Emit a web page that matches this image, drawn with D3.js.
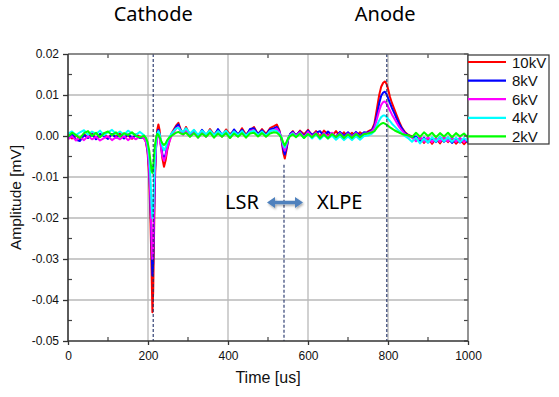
<!DOCTYPE html>
<html>
<head>
<meta charset="utf-8">
<script src="https://cdn.jsdelivr.net/npm/d3@7"></script>
<style>
  body { margin: 0; background: #fff; }
  svg text { font-family: "Liberation Sans", Arial, sans-serif; fill: #111; }
  svg text.note { font-family: "Noto Sans", "Open Sans", sans-serif; fill: #000; }
</style>
</head>
<body>
<div id="chart"></div>
<script>

///////////////////////////////////////////////////////////////////////////
////////////////////////////////// Data ///////////////////////////////////
///////////////////////////////////////////////////////////////////////////

// time in us
var time = [
  0,10,20,30,40,50,60,70,80,90,100,110,120,130,140,150,160,170,180,190,
  195,199,203,206,209,211,213,215,217,220,223,226,229,232,236,240,244,248,253,258,264,270,276,282,288,
  295,305,315,325,335,345,355,365,375,385,395,405,415,425,435,445,455,465,475,485,495,505,515,
  522,528,534,538,542,546,551,556,562,
  570,580,590,600,610,620,630,640,650,660,670,680,690,700,710,720,730,740,750,760,
  766,772,778,783,788,792,796,800,805,810,816,822,828,835,842,850,
  860,870,880,890,900,910,920,930,940,950,960,970,980,990,1000
]

// amplitudes in units of 0.001 mV
var amp10kV = [
  0.4,-0.6,0.2,-0.9,0.5,-0.4,0.7,-0.7,0.2,0.6,-0.5,0.4,-0.2,0.8,-0.4,0.2,-0.7,0.4,-0.2,-0.5,
  -1.5,-4,-10,-20,-33,-43,-38,-25,-12,-3,1.5,2.8,1.5,-2,-5.5,-7.5,-6,-3.5,-1.5,0.5,1.5,2.5,3.2,1.5,0.5,
  2.2,0.2,1.4,-0.1,1.3,0.0,1.7,0.3,1.4,-0.1,1.6,0.4,1.3,0.1,1.9,0.3,1.4,2.2,0.4,1.7,0.5,1.9,2.4,
  2.8,1.5,-1.0,-4.0,-5.5,-3.5,-0.5,0.5,1.2,
  0.0,1.3,0.4,1.5,0.1,1.2,-0.2,1.3,0.4,0.0,1.2,-0.1,0.9,-0.2,0.8,-0.1,0.9,0.1,1.1,1.6,
  3,6.5,10,12,13,13.3,12.8,11.5,9.5,8,6.5,5,3.5,2,1,0.3,
  -0.1,-1.2,-0.3,-1.7,-0.4,-1.9,-0.6,-1.8,-0.3,-1.5,-0.5,-1.9,-0.8,-2.0,-1.0
]
var amp8kV = [
  -0.4,0.5,-0.9,-1.2,0.2,-0.5,0.4,-0.8,0.5,0.0,-0.7,0.5,-0.4,0.2,-0.6,0.4,-0.4,0.1,-0.5,-0.3,
  -1.2,-3.5,-8,-16,-27,-34,-31,-20,-10,-2.5,0.8,1.5,0.5,-2,-4.5,-5.5,-4.5,-2.5,-1,0.3,1.2,2.2,2.8,1.3,0.8,
  1.8,0.3,1.2,-0.2,1.5,0.2,1.3,0.0,1.7,0.3,1.2,-0.1,1.6,0.4,1.5,0.0,1.7,1.9,0.5,1.4,0.2,1.6,1.9,
  2.2,1.3,-0.8,-3.2,-4.5,-3.0,-0.6,0.6,1.0,
  0.2,1.1,-0.1,1.3,0.3,0.8,1.2,0.0,1.1,0.2,-0.1,1.0,0.0,0.9,-0.1,1.0,0.0,0.9,0.8,1.4,
  2.5,5,8,9.8,10.6,10.8,10.3,9.3,8,6.8,5.5,4.2,3,1.8,0.8,0.2,
  -0.3,-0.1,-1.4,-0.4,-1.6,-0.5,-1.5,-0.3,-1.4,-0.4,-1.7,-0.6,-1.6,-0.7,-1.6
]
var amp6kV = [
  -0.8,-0.1,-1.1,-0.3,-1.0,0.0,-0.8,-0.2,-1.1,-0.5,-0.1,-1.0,-0.3,-0.8,0.0,-1.0,-0.3,-0.8,-0.1,-0.6,
  -1.5,-3.5,-8,-15,-25,-30,-27,-18,-9,-3,-0.5,0.5,-0.5,-2.5,-5,-6,-5,-3,-1.5,-0.2,0.8,1.8,2.2,1.0,0.3,
  1.4,-0.1,0.9,-0.4,0.8,-0.2,1.1,-0.3,0.9,-0.1,0.8,-0.4,1.1,-0.1,0.9,-0.3,1.2,1.4,0.0,1.0,-0.1,1.2,1.5,
  1.8,1.0,-0.6,-2.6,-3.6,-2.4,-0.5,0.3,0.8,
  0.0,0.9,-0.3,1.0,-0.1,0.8,-0.4,0.7,-0.2,0.8,-0.3,0.7,-0.4,0.6,-0.3,0.7,-0.4,0.6,0.7,1.2,
  2,4,6.2,7.6,8.3,8.4,8.0,7.2,6.2,5.2,4.2,3.2,2.2,1.3,0.5,0.0,
  -0.4,-1.3,-0.2,-1.4,-0.3,-1.5,-0.4,-1.4,-0.2,-1.3,-0.3,-1.4,-0.4,-1.5,-0.5
]
var amp4kV = [
  0.6,1.1,0.2,0.9,1.4,0.3,1.1,0.5,1.3,0.2,0.9,1.5,0.5,1.1,0.3,1.3,0.6,0.3,1.0,0.2,
  -0.5,-2,-5,-10,-17,-20,-18,-12,-6,-1.5,0.5,1.2,0.5,-1,-2.5,-3.5,-2.8,-1.5,-0.3,0.5,1.2,1.8,2.0,1.3,1.0,
  1.9,0.6,1.5,0.3,1.3,0.4,1.4,0.2,1.2,0.3,1.3,0.1,1.1,0.2,1.2,0.1,1.0,1.3,0.2,1.1,0.1,1.2,1.4,
  1.2,0.6,-0.5,-2.0,-2.8,-1.8,-0.4,0.2,0.6,
  -0.2,0.6,-0.5,0.5,-0.6,0.4,-0.8,0.2,-0.6,0.1,-0.9,0.0,-1.0,-0.1,-1.0,0.0,-0.9,0.0,0.1,0.6,
  1.2,2.5,3.8,4.6,5.0,5.0,4.7,4.2,3.6,3.0,2.4,1.8,1.2,0.6,0.0,-0.5,
  -1.4,-0.4,-1.8,-0.6,-1.6,-0.3,-1.4,-0.2,-1.3,-0.3,-1.4,-0.4,-1.5,-0.5,-1.3
]
var amp2kV = [
  -0.2,0.8,0.2,-0.5,0.7,1.2,0.0,0.8,-0.3,0.7,1.1,0.2,0.9,-0.2,0.7,0.2,0.9,0.0,-0.4,0.1,
  -0.5,-1.5,-3.5,-6,-8.5,-9,-7.5,-5,-2.5,-0.5,0.5,0.3,-0.3,-1.0,-1.8,-2.2,-1.8,-1.0,-0.4,0.0,0.4,0.8,1.0,0.6,0.4,
  0.8,-0.2,0.7,-0.4,0.6,-0.2,0.8,-0.4,0.6,-0.2,0.7,-0.5,0.6,-0.2,0.7,-0.4,0.6,0.8,-0.1,0.7,-0.2,0.6,0.9,
  0.8,0.3,-0.5,-1.6,-2.3,-1.5,-0.5,0.0,0.4,
  -0.3,0.6,-0.5,0.5,-0.3,0.6,-0.5,0.4,-0.6,0.5,-0.3,0.5,-0.5,0.4,-0.5,0.5,-0.3,0.5,0.6,0.9,
  1.2,2.0,2.6,3.0,3.2,3.0,2.8,2.5,2.1,1.8,1.4,1.1,0.8,0.5,0.3,0.2,
  -0.3,0.8,-0.2,0.9,0.0,0.8,-0.3,0.7,-0.1,0.8,-0.3,0.7,-0.1,0.6,-0.4
]

var seriesNames = ["10kV", "8kV", "6kV", "4kV", "2kV"]
var seriesValues = [amp10kV, amp8kV, amp6kV, amp4kV, amp2kV]
var seriesColors = ["#ff0000", "#0000ff", "#ff00ff", "#00ffff", "#00ff00"]

var xTicks = [0, 200, 400, 600, 800, 1000]
var xMinorTicks = [100, 300, 500, 700, 900]
var yTicks = [-50, -40, -30, -20, -10, 0, 10, 20]
var yMinorTicks = [-45, -35, -25, -15, -5, 5, 15]

// dashed markers: time and top value (all run down to the x axis)
var markerTimes = [213, 540, 797]
var markerTops = [20, -7, 20]

///////////////////////////////////////////////////////////////////////////
///////////////////////////////// Globals /////////////////////////////////
///////////////////////////////////////////////////////////////////////////

var canvasDim = { width: 559, height: 397 }
var plot = { left: 68, right: 468, top: 54, bottom: 341 }

var svg = d3.select("#chart").append("svg")
  .attr("width", canvasDim.width)
  .attr("height", canvasDim.height)

var xScale = d3.scaleLinear().domain([0, 1000]).range([plot.left, plot.right])
var yScale = d3.scaleLinear().domain([-50, 20]).range([plot.bottom, plot.top])

function yLabel(v) { return (v / 1000).toFixed(2) }

///////////////////////////////////////////////////////////////////////////
////////////////////////////////// Grid ///////////////////////////////////
///////////////////////////////////////////////////////////////////////////

var grid = svg.append("g").attr("stroke", "#b8b8b8").attr("stroke-width", 1.3)

grid.selectAll(".vgrid").data(xTicks.slice(1, -1)).enter().append("line")
  .attr("x1", d => xScale(d)).attr("x2", d => xScale(d))
  .attr("y1", plot.top).attr("y2", plot.bottom)

grid.selectAll(".hgrid").data(yTicks.slice(1, -1)).enter().append("line")
  .attr("x1", plot.left).attr("x2", plot.right)
  .attr("y1", d => yScale(d)).attr("y2", d => yScale(d))

///////////////////////////////////////////////////////////////////////////
///////////////////////////////// Series //////////////////////////////////
///////////////////////////////////////////////////////////////////////////

var line = d3.line()
  .x((d, i) => xScale(time[i]))
  .y(d => yScale(d))

svg.append("g").selectAll("path").data(seriesValues).enter().append("path")
  .attr("d", d => line(d))
  .attr("fill", "none")
  .attr("stroke", (d, i) => seriesColors[i])
  .attr("stroke-width", 2)
  .attr("stroke-linejoin", "round")

// dashed markers
svg.append("g").selectAll("line").data(markerTimes).enter().append("line")
  .attr("x1", d => xScale(d)).attr("x2", d => xScale(d))
  .attr("y1", (d, i) => yScale(markerTops[i])).attr("y2", plot.bottom)
  .attr("stroke", "#1f3068")
  .attr("stroke-width", 1.1)
  .attr("stroke-dasharray", "3,2")

///////////////////////////////////////////////////////////////////////////
///////////////////////////////// Axes ////////////////////////////////////
///////////////////////////////////////////////////////////////////////////

var xAxis = svg.append("g")
  .attr("transform", "translate(0," + plot.bottom + ")")
  .call(d3.axisBottom(xScale).tickValues(xTicks).tickSize(4).tickPadding(6).tickFormat(d3.format("d")))
var yAxis = svg.append("g")
  .attr("transform", "translate(" + plot.left + ",0)")
  .call(d3.axisLeft(yScale).tickValues(yTicks).tickSize(5).tickFormat(yLabel).tickPadding(4))

;[xAxis, yAxis].forEach(function(ax) {
  ax.select(".domain").remove()
  ax.selectAll(".tick line").attr("stroke", "#333").attr("stroke-width", 1.3)
  ax.selectAll("text").attr("font-size", 12).attr("fill", "#1a1a1a")
    .style("font-family", "'Liberation Sans', Arial, sans-serif")
})

// minor ticks (inside)
var minor = svg.append("g").attr("stroke", "#444").attr("stroke-width", 1.2)
minor.selectAll(".mxb").data(xMinorTicks).enter().append("line")
  .attr("x1", d => xScale(d)).attr("x2", d => xScale(d))
  .attr("y1", plot.bottom).attr("y2", plot.bottom - 4)
minor.selectAll(".mxt").data(xMinorTicks).enter().append("line")
  .attr("x1", d => xScale(d)).attr("x2", d => xScale(d))
  .attr("y1", plot.top).attr("y2", plot.top + 4)
minor.selectAll(".myl").data(yMinorTicks).enter().append("line")
  .attr("x1", plot.left).attr("x2", plot.left + 4)
  .attr("y1", d => yScale(d)).attr("y2", d => yScale(d))
minor.selectAll(".myr").data(yMinorTicks.concat(yTicks)).enter().append("line")
  .attr("x1", plot.right).attr("x2", plot.right - 4)
  .attr("y1", d => yScale(d)).attr("y2", d => yScale(d))

// frame
svg.append("path")
  .attr("d", "M" + plot.left + "," + plot.top + "H" + plot.right + "V" + plot.bottom)
  .attr("fill", "none").attr("stroke", "#666").attr("stroke-width", 1.4)
svg.append("path")
  .attr("d", "M" + plot.left + "," + plot.top + "V" + plot.bottom + "H" + plot.right)
  .attr("fill", "none").attr("stroke", "#333").attr("stroke-width", 1.6)

// axis titles
svg.append("text")
  .attr("x", (plot.left + plot.right) / 2).attr("y", 383)
  .attr("text-anchor", "middle").attr("font-size", 16)
  .text("Time [us]")
svg.append("text")
  .attr("transform", "translate(21," + ((plot.top + plot.bottom) / 2) + ") rotate(-90)")
  .attr("text-anchor", "middle").attr("font-size", 15.5)
  .text("Amplitude [mV]")

///////////////////////////////////////////////////////////////////////////
//////////////////////////////// Legend ///////////////////////////////////
///////////////////////////////////////////////////////////////////////////

var legend = svg.append("g").attr("transform", "translate(" + plot.right + ",55)")
legend.append("rect")
  .attr("width", 81).attr("height", 89)
  .attr("fill", "#fff").attr("stroke", "#333").attr("stroke-width", 1.2)

var items = legend.selectAll(".item").data(seriesNames).enter().append("g")
  .attr("transform", (d, i) => "translate(0," + (7 + i * 18.6) + ")")
items.append("line")
  .attr("x1", 0).attr("x2", 38)
  .attr("stroke", (d, i) => seriesColors[i]).attr("stroke-width", 2.2)
items.append("text")
  .attr("x", 44).attr("y", 5.5)
  .attr("font-size", 15)
  .text(d => d)

///////////////////////////////////////////////////////////////////////////
////////////////////////////// Annotations ////////////////////////////////
///////////////////////////////////////////////////////////////////////////

svg.append("text").attr("class", "note")
  .attr("x", xScale(213)).attr("y", 21)
  .attr("text-anchor", "middle").attr("font-size", 20)
  .text("Cathode")
svg.append("text").attr("class", "note")
  .attr("x", xScale(793)).attr("y", 21)
  .attr("text-anchor", "middle").attr("font-size", 20)
  .text("Anode")

svg.append("text").attr("class", "note")
  .attr("x", 225).attr("y", 209).attr("font-size", 20)
  .text("LSR")
svg.append("text").attr("class", "note")
  .attr("x", 317).attr("y", 209).attr("font-size", 20)
  .text("XLPE")

// double arrow between LSR and XLPE
var defs = svg.append("defs")
defs.append("filter").attr("id", "shadow")
  .attr("x", "-20%").attr("y", "-50%").attr("width", "140%").attr("height", "200%")
  .append("feDropShadow")
    .attr("dx", 1).attr("dy", 1.5).attr("stdDeviation", 1.2)
    .attr("flood-color", "#000").attr("flood-opacity", 0.35)

var ax0 = 267, ax1 = 303, ay = 202.5
svg.append("path")
  .attr("d", "M" + ax0 + "," + ay +
    "L" + (ax0 + 8) + "," + (ay - 5.5) + "V" + (ay - 1.8) +
    "H" + (ax1 - 8) + "V" + (ay - 5.5) +
    "L" + ax1 + "," + ay +
    "L" + (ax1 - 8) + "," + (ay + 5.5) + "V" + (ay + 1.8) +
    "H" + (ax0 + 8) + "V" + (ay + 5.5) + "Z")
  .attr("fill", "#4f81bd")
  .attr("filter", "url(#shadow)")

</script>
</body>
</html>
